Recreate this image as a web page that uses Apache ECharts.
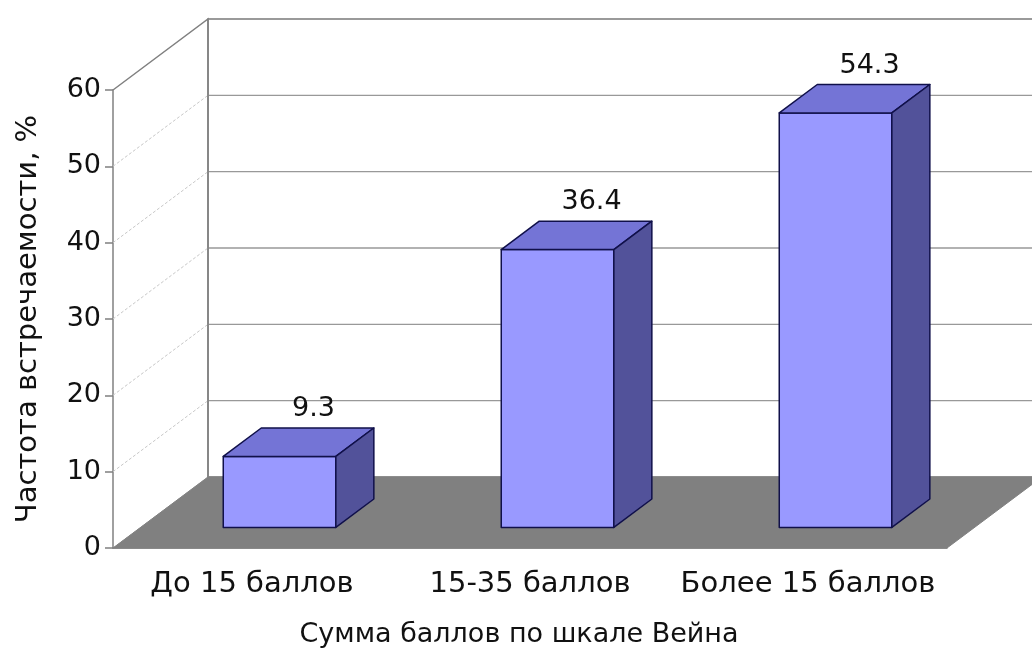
<!DOCTYPE html>
<html>
<head>
<meta charset="utf-8">
<script src="https://cdn.jsdelivr.net/npm/echarts@6/dist/echarts.min.js"></script>
<style>
  html, body { margin: 0; padding: 0; background: #fff; }
  #main { width: 1032px; height: 651px; }
</style>
</head>
<body>
<div id="main"></div>
<script>
// данные
var categories = ['До 15 баллов', '15-35 баллов', 'Более 15 баллов'];
var values = [9.3, 36.4, 54.3];
var yTicks = [0, 10, 20, 30, 40, 50, 60];

// псевдо-3D: сдвиг задней стенки в пикселях
var DEPTH = [95, -71];
var BAR_FRONT = 0.29, BAR_BACK = 0.69, BAR_WIDTH = 0.405;
var FONT = "'DejaVu Sans', 'Liberation Sans', Arial, sans-serif";

var myChart = echarts.init(document.getElementById('main'));

function shift(p, t) {
  return [p[0] + DEPTH[0] * t, p[1] + DEPTH[1] * t];
}

// стенки, пол и линии сетки
function renderWalls(params, api) {
  var cs = params.coordSys;
  var left = cs.x, right = cs.x + cs.width;
  var bottom = api.coord([0, yTicks[0]])[1];
  var top = api.coord([0, yTicks[yTicks.length - 1]])[1];
  var gray = '#808080';
  var children = [];
  // задняя стенка
  children.push({
    type: 'polygon',
    shape: { points: [shift([left, top], 1), shift([right, top], 1), shift([right, bottom], 1), shift([left, bottom], 1)] },
    style: { fill: '#fff', stroke: gray, lineWidth: 1.5 }
  });
  yTicks.forEach(function (t) {
    var y = api.coord([0, t])[1];
    children.push({
      type: 'line',
      shape: { x1: left + DEPTH[0], y1: y + DEPTH[1], x2: right + DEPTH[0], y2: y + DEPTH[1] },
      style: { stroke: '#999', lineWidth: 1.3 }
    });
    if (t !== yTicks[yTicks.length - 1]) {
      children.push({
        type: 'line',
        shape: { x1: left, y1: y, x2: left + DEPTH[0], y2: y + DEPTH[1] },
        style: { stroke: '#c8c8c8', lineWidth: 1, lineDash: [3, 2] }
      });
    }
  });
  // левая стенка
  children.push({
    type: 'polyline',
    shape: { points: [[left, top], shift([left, top], 1), shift([left, bottom], 1)] },
    style: { fill: null, stroke: gray, lineWidth: 1.5 }
  });
  // пол
  children.push({
    type: 'polygon',
    shape: { points: [[left, bottom], [right, bottom], shift([right, bottom], 1), shift([left, bottom], 1)] },
    style: { fill: '#808080', stroke: '#808080', lineWidth: 1 }
  });
  return { type: 'group', children: children };
}

// 3D столбики
function renderBar(params, api) {
  var i = api.value(0), v = api.value(1);
  var base = api.coord([i, 0]);
  var topP = api.coord([i, v]);
  var w = api.size([1, 0])[0] * BAR_WIDTH;
  var x0 = base[0] - w / 2, x1 = base[0] + w / 2;
  var yb = base[1], yt = topP[1];
  var line = { stroke: '#10104a', lineWidth: 1.5, lineJoin: 'round' };
  var labelPos = shift([base[0], yt], BAR_BACK);
  return {
    type: 'group',
    children: [
      {
        type: 'polygon',
        shape: { points: [shift([x0, yb], BAR_FRONT), shift([x1, yb], BAR_FRONT), shift([x1, yt], BAR_FRONT), shift([x0, yt], BAR_FRONT)] },
        style: Object.assign({ fill: '#9999ff' }, line)
      },
      {
        type: 'polygon',
        shape: { points: [shift([x0, yt], BAR_FRONT), shift([x1, yt], BAR_FRONT), shift([x1, yt], BAR_BACK), shift([x0, yt], BAR_BACK)] },
        style: Object.assign({ fill: '#7474d6' }, line)
      },
      {
        type: 'polygon',
        shape: { points: [shift([x1, yb], BAR_FRONT), shift([x1, yb], BAR_BACK), shift([x1, yt], BAR_BACK), shift([x1, yt], BAR_FRONT)] },
        style: Object.assign({ fill: '#52529a' }, line)
      },
      {
        type: 'text',
        x: labelPos[0] - 4,
        y: labelPos[1] - 19,
        style: {
          text: String(v), fill: '#111', font: '27px ' + FONT,
          align: 'center', verticalAlign: 'middle'
        }
      }
    ]
  };
}

myChart.setOption({
  backgroundColor: '#fff',
  animation: false,
  grid: { left: 113, right: 85, top: 90, bottom: 103, outerBoundsMode: 'none' },
  xAxis: {
    type: 'category',
    data: categories,
    name: 'Сумма баллов по шкале Вейна',
    nameLocation: 'middle',
    nameGap: 73,
    nameTextStyle: { fontSize: 27, color: '#111', fontFamily: FONT, padding: [0, 22, 0, 0] },
    axisLine: { lineStyle: { color: '#707070', width: 1.5 } },
    axisTick: { show: false },
    axisLabel: { interval: 0, fontSize: 29, color: '#111', fontFamily: FONT, margin: 22 },
    splitLine: { show: false }
  },
  yAxis: {
    type: 'value',
    min: 0,
    max: 60,
    interval: 10,
    name: 'Частота встречаемости, %',
    nameLocation: 'middle',
    nameGap: 70,
    nameTextStyle: { fontSize: 29, color: '#111', fontFamily: FONT },
    axisLine: { show: true, lineStyle: { color: '#808080', width: 1.5 } },
    axisTick: { show: true, length: 8, lineStyle: { color: '#808080', width: 1.5 } },
    axisLabel: { fontSize: 27, color: '#111', fontFamily: FONT, margin: 12 },
    splitLine: { show: false }
  },
  series: [
    {
      type: 'custom',
      z: 1,
      silent: true,
      data: [[0, 0]],
      renderItem: renderWalls
    },
    {
      type: 'custom',
      z: 2,
      data: categories.map(function (c, i) { return [i, values[i]]; }),
      encode: { x: 0, y: 1 },
      renderItem: renderBar
    }
  ]
});
</script>
</body>
</html>
